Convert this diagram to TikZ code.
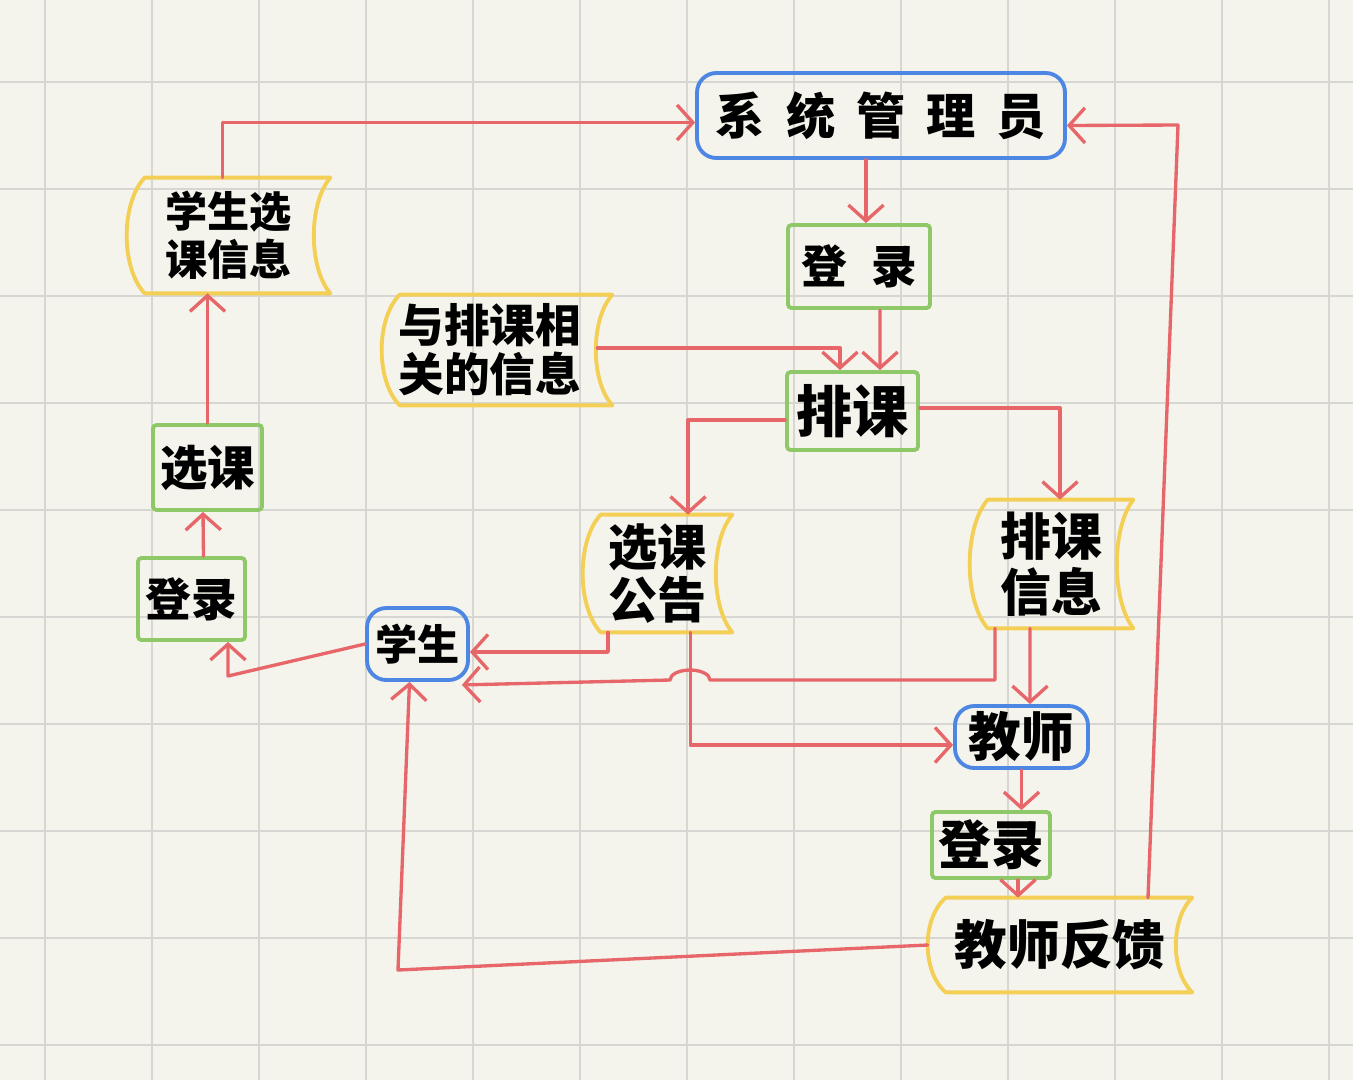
\documentclass[tikz,border=0pt]{standalone}
\usepackage{fontspec}
\newfontfamily\cjk{Noto Sans CJK SC}
\usetikzlibrary{arrows.meta,calc}
\definecolor{bg}{RGB}{245,244,236}
\definecolor{gridc}{RGB}{214,214,210}
\definecolor{cred}{RGB}{231,102,106}
\definecolor{cblue}{RGB}{78,134,228}
\definecolor{cgreen}{RGB}{143,200,105}
\definecolor{cyellow}{RGB}{244,207,86}
% stored-data outline: convex left side, concave right side
\newcommand\mystore[1]{\draw[docline]
  ($(#1.north west)+(18,0)$) -- (#1.north east)
  .. controls ($(#1.north east)!0.22!(#1.south east)+(-22,0)$) and ($(#1.north east)!0.78!(#1.south east)+(-22,0)$) .. (#1.south east)
  -- ($(#1.south west)+(18,0)$)
  .. controls ($(#1.south west)!0.22!(#1.north west)+(-6,0)$) and ($(#1.south west)!0.78!(#1.north west)+(-6,0)$) .. cycle;}
\newcommand\fs[2]{\fontsize{#1}{#2}\selectfont}
\begin{document}
\begin{tikzpicture}[x=0.02cm,y=-0.02cm,
  boxtxt/.style={text=black, inner sep=0pt, align=center},
  bluebox/.style={boxtxt, draw=cblue, line width=2.2pt, rounded corners=11pt},
  greenbox/.style={boxtxt, draw=cgreen, line width=2.2pt, rounded corners=2pt},
  storebox/.style={boxtxt},
  docline/.style={draw=cyellow, line width=2.2pt, line join=round},
  flow/.style={draw=cred, line width=1.9pt, line join=round, line cap=round, -{Straight Barb[length=9pt,width=20pt]}}]
\fill[bg] (0,0) rectangle (1353,1080);
\useasboundingbox (0,0) rectangle (1353,1080);
\foreach \x in {45,152,...,1329} \draw[gridc, line width=0.9pt] (\x,0) -- (\x,1080);
\foreach \y in {82,189,...,1046} \draw[gridc, line width=0.9pt] (0,\y) -- (1353,\y);

% process / entity nodes
\node[bluebox, font=\cjk\bfseries\fs{28}{30}, minimum width=7.36cm, minimum height=1.70cm] (admin) at (881,115.5) {系\hspace{12pt}统\hspace{12pt}管\hspace{12pt}理\hspace{12pt}员};
\node[greenbox, font=\cjk\bfseries\fs{26}{28}, minimum width=2.84cm, minimum height=1.66cm] (dl1) at (859,266.5) {登\hspace{14pt}录};
\node[greenbox, font=\cjk\bfseries\fs{32}{34}, minimum width=2.62cm, minimum height=1.56cm] (pk) at (852.5,411) {排课};
\node[greenbox, font=\cjk\bfseries\fs{27}{29}, minimum width=2.18cm, minimum height=1.70cm] (xk) at (207.5,467.5) {选课};
\node[greenbox, font=\cjk\bfseries\fs{26}{28}, minimum width=2.14cm, minimum height=1.64cm] (dl2) at (191.5,599) {登录};
\node[bluebox, font=\cjk\bfseries\fs{24}{26}, minimum width=2.02cm, minimum height=1.44cm] (xs) at (417.5,644) {学生};
\node[bluebox, font=\cjk\bfseries\fs{30}{32}, minimum width=2.66cm, minimum height=1.24cm] (js) at (1021.5,737) {教师};
\node[greenbox, font=\cjk\bfseries\fs{30}{32}, minimum width=2.36cm, minimum height=1.32cm] (dl3) at (991,845) {登录};

% stored data nodes
\node[storebox, font=\cjk\bfseries\fs{24}{27}, minimum width=4.06cm, minimum height=2.30cm] (sxi) at (228.5,235.5) {学生选\\课信息};
\node[storebox, font=\cjk\bfseries\fs{26}{28}, minimum width=4.60cm, minimum height=2.20cm] (yxx) at (497,350) {\hspace*{-8pt}与排课相\\\hspace*{-8pt}关的信息};
\node[storebox, font=\cjk\bfseries\fs{28}{30}, minimum width=2.98cm, minimum height=2.34cm] (xkgg) at (657.5,573.5) {选课\\公告};
\node[storebox, font=\cjk\bfseries\fs{29}{32}, minimum width=3.26cm, minimum height=2.56cm] (pkxx) at (1051.5,564) {排课\\信息};
\node[storebox, font=\cjk\bfseries\fs{30}{32}, minimum width=5.28cm, minimum height=1.88cm] (jsfk) at (1060,945) {教师反馈};
\mystore{sxi}
\mystore{yxx}
\mystore{xkgg}
\mystore{pkxx}
\mystore{jsfk}

% helper coordinates
\coordinate (h1) at (710,680);
\coordinate (c12) at (1178,125);
\coordinate (c13) at (398,970);
\coordinate (c14) at (228,676);

% connectors
\draw[flow] ($(sxi.north)+(-6,0)$) |- ($(admin.west)+(0,7)$);
\draw[flow] ($(admin.south)+(-15,0)$) -- ($(dl1.north)+(7,0)$);
\draw[flow] ($(dl1.south)+(21,0)$) -- ($(pk.north)+(27.5,0)$);
\draw[flow] ($(yxx.east)+(-15,-2)$) -| ($(pk.north)+(-12.5,0)$);
\draw[flow] ($(pk.west)+(0,9)$) -| ($(xkgg.north)+(30.5,0)$);
\draw[flow] ($(pk.east)+(0,-3)$) -| ($(pkxx.north)+(8.5,0)$);
\draw[flow] ($(xkgg.south)+(-49.5,0)$) |- ($(xs.east)+(0,8)$);
\draw[flow] ($(pkxx.south)+(-56.5,0)$) |- (h1) arc[start angle=0,end angle=-180,x radius=20,y radius=10] -- ($(xs.south east)+(-8,3)$);
\draw[flow] ($(xkgg.south)+(33,0)$) |- ($(js.west)+(0,8)$);
\draw[flow] ($(pkxx.south)+(-21.5,0)$) -- ($(js.north)+(8.5,0)$);
\draw[flow] (js.south) -- ($(dl3.north)+(30.5,0)$);
\draw[flow] ($(dl3.south)+(27,0)$) -- ($(jsfk.north)+(-42,0)$);
\draw[flow] ($(jsfk.north)+(88,0)$) -- (c12) -- ($(admin.east)+(0,10)$);
\draw[flow] (jsfk.west) -- (c13) -- ($(xs.south)+(-8,0)$);
\draw[flow] (xs.west) -- (c14) -- ($(dl2.south)+(36.5,0)$);
\draw[flow] ($(dl2.north)+(12,0)$) -- ($(xk.south)+(-4.5,0)$);
\draw[flow] (xk.north) -- (xk.north |- sxi.south);
\end{tikzpicture}
\end{document}
